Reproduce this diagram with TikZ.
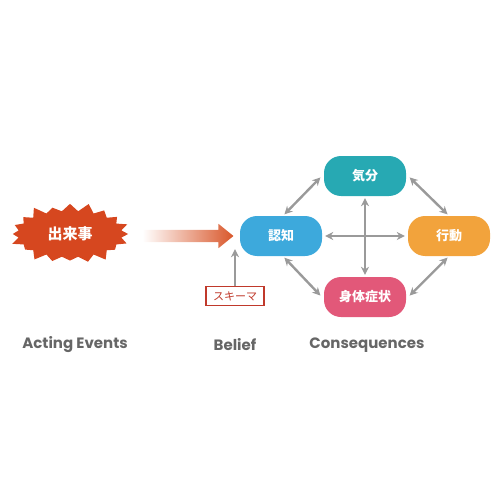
\documentclass[tikz,border=0pt]{standalone}
\usepackage{fontspec}
\setmainfont{Poppins}
\newfontfamily\jpfont{Noto Sans CJK JP}
\usepackage{tikz}
\usetikzlibrary{shapes.symbols, shapes.arrows, arrows.meta}
\definecolor{eventred}{HTML}{D6471F}
\definecolor{arrowred}{HTML}{D9572B}
\definecolor{ninchiblue}{HTML}{3DA9DC}
\definecolor{kibunteal}{HTML}{27A9B3}
\definecolor{koudouorange}{HTML}{F2A33C}
\definecolor{shintaipink}{HTML}{E25879}
\definecolor{linkgray}{HTML}{9A9A9A}
\definecolor{labelgray}{HTML}{666666}
\definecolor{schemared}{HTML}{C0392B}
\tikzstyle{event} = [starburst, starburst points=20, starburst point height=10pt, minimum width=124pt, minimum height=66pt, fill=eventred, text=white, font=\jpfont\bfseries\fontsize{15}{15}\selectfont]
\tikzstyle{blob} = [rectangle, rounded corners=17pt, minimum width=82pt, minimum height=40pt, text=white, font=\jpfont\bfseries\fontsize{13}{13}\selectfont]
\tikzstyle{schemabox} = [rectangle, draw=schemared, line width=1.3pt, fill=white, minimum width=58pt, minimum height=19pt, inner sep=2pt, text=schemared, font=\jpfont\fontsize{11}{11}\selectfont]
\tikzstyle{bigarrow} = [single arrow, single arrow head extend=6pt, single arrow tip angle=78, minimum height=91pt, inner xsep=0pt, inner ysep=6pt, left color=white, middle color=arrowred, right color=arrowred]
\tikzstyle{link} = [linkgray, line width=2.4pt, {Stealth[length=8pt,width=8pt]}-{Stealth[length=8pt,width=8pt]}, shorten <=2pt, shorten >=2pt]
\tikzstyle{arrow} = [linkgray, line width=2.4pt, -{Stealth[length=8pt,width=8pt]}]
\tikzstyle{caption} = [text=labelgray, font=\bfseries\fontsize{15}{15}\selectfont]

\begin{document}
\begin{tikzpicture}[x=1pt, y=-1pt, node distance=84pt]
\useasboundingbox (0,0) rectangle (500,500);

\node (event) [event] at (70,234) {出来事};
\node (ninchi) [blob, fill=ninchiblue] at (281,236) {認知};
\node (kibun) [blob, fill=kibunteal, right of=ninchi, yshift=60pt] {気分};
\node (koudou) [blob, fill=koudouorange, right of=ninchi, xshift=84pt] {行動};
\node (shintai) [blob, fill=shintaipink, right of=ninchi, yshift=-61pt] {身体症状};
\node (schema) [schemabox] at (235,296) {スキーマ};
\node (push) [bigarrow, anchor=east] at ([xshift=-6pt]ninchi.west) {};

% Acting events / Belief / Consequences
\node (actlbl) [caption] at (75,345) {Acting Events};
\node (belieflbl) [caption] at (235,345) {Belief};
\node (conslbl) [caption] at (367,345) {Consequences};

\coordinate (schematip) at ([yshift=7pt]schema.north |- ninchi.south);
\draw [arrow] (schema) -- (schematip);

\draw [link] ([xshift=2pt]ninchi.north) -- ([xshift=-2pt]kibun.west);
\draw [link] ([xshift=2pt]kibun.east) -- (koudou.north);
\draw [link] (koudou.south) -- ([xshift=2pt]shintai.east);
\draw [link] ([xshift=2pt]ninchi.south) -- ([xshift=-2pt]shintai.west);
\draw [link] (kibun) -- (shintai);
\draw [link, shorten <=3pt, shorten >=3pt] (ninchi) -- (koudou);

\end{tikzpicture}
\end{document}
